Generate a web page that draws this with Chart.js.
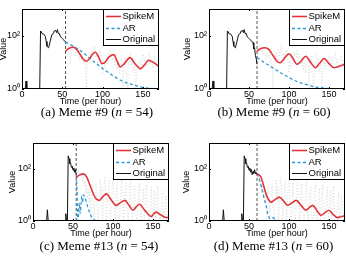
<!DOCTYPE html>
<html>
<head>
<meta charset="utf-8">
<script src="https://cdn.jsdelivr.net/npm/chart.js@4.4.0/dist/chart.umd.min.js"></script>
<style>
  body { margin: 0; background: #fff; width: 346px; height: 263px; overflow: hidden; position: relative; }
  canvas { position: absolute; }
  .cap { position: absolute; font: 13px 'Liberation Serif', 'Times New Roman', serif; white-space: nowrap; line-height: 1; transform: translate(-50%, -50%); color: #000; }
</style>
</head>
<body>
<canvas id="chartA" width="173" height="112" style="left:0;top:0"></canvas>
<canvas id="chartB" width="173" height="112" style="left:173px;top:0"></canvas>
<canvas id="chartC" width="173" height="112" style="left:0;top:131px"></canvas>
<canvas id="chartD" width="173" height="112" style="left:173px;top:131px"></canvas>
<div class="cap" style="left:97px;top:110.5px">(a) Meme #9 (<i>n</i> = 54)</div>
<div class="cap" style="left:274px;top:110.5px">(b) Meme #9 (<i>n</i> = 60)</div>
<div class="cap" style="left:99px;top:244.5px">(c) Meme #13 (<i>n</i> = 54)</div>
<div class="cap" style="left:273.5px;top:244.5px">(d) Meme #13 (<i>n</i> = 60)</div>
<script>
// observed popularity, meme #9 (hour, value)
const meme9Hours = [0, 4, 5, 6, 22, 23, 24, 25, 27, 29, 30, 31, 33, 35, 37, 39, 40, 42, 43, 44, 45, 46, 48, 50, 52, 54,
  55, 56, 57, 58, 59, 60, 61, 62, 63, 64, 66, 67, 68, 70, 71, 72, 74, 75, 76, 78, 79, 80, 81, 82, 84, 85, 87, 88, 90,
  91, 93, 94, 96, 97, 99, 100, 101, 103, 104, 106, 107, 109, 110, 112, 113, 115, 116, 118, 119, 121, 122, 124, 125,
  126, 128, 129, 131, 132, 134, 135, 137, 138, 140, 141, 143, 144, 146, 147, 149, 150, 152, 153, 155, 156, 158, 159,
  161, 162, 164, 165, 167, 168, 170];
const meme9Values = [1, 1, 2, 1, 1, 150, 140, 118, 115, 95, 60, 40, 35, 62, 110, 120, 150, 155, 130, 170, 120, 125, 90, 78, 68, 58,
  55, 32, 35, 18, 14, 8.5, 20, 30, 45, 25, 40, 18, 35, 28, 12, 22, 15, 30, 9, 14, 6, 1, 8, 12, 25, 10, 30, 18, 40,
  15, 22, 8, 20, 30, 10, 4, 12, 6, 18, 9, 24, 14, 30, 12, 20, 8, 16, 5, 12, 4, 9, 14, 1,
  7, 18, 5, 1, 10, 22, 8, 15, 4, 9, 1, 6, 11, 5, 14, 8, 20, 10, 16, 7, 12, 25, 9,
  14, 6, 11, 18, 8, 12, 9];

// observed popularity, meme #13 (hour, value)
const meme13Hours = [0, 17, 18, 19, 40, 41, 42, 43, 44, 45, 46, 47, 48, 49, 50, 51, 52, 53, 54, 55, 56, 57, 58, 59, 60,
  61, 62, 63, 64, 65, 66, 67, 68, 69, 70, 71, 72, 73, 74, 75, 76, 78, 79, 80, 82, 83, 84, 85, 86, 87, 89, 90, 91, 92,
  94, 95, 96, 97, 99, 100, 101, 103, 104, 105, 106, 108, 110, 111, 112, 113, 115, 116, 117, 119, 121, 122, 123, 124,
  126, 127, 128, 130, 132, 133, 134, 135, 137, 138, 139, 141, 142, 143, 145, 147, 148, 149, 151, 152, 153, 155, 156,
  157, 159, 161, 162, 163, 165, 166, 168, 170];
const meme13Values = [1, 1, 2.7, 1, 1, 1.9, 1, 1, 320, 250, 160, 170, 115, 130, 90, 110, 75, 95, 60, 80, 68, 95, 66, 74, 62,
  40, 30, 55, 20, 35, 12, 25, 8, 18, 5, 14, 1, 10, 22, 6, 1, 15, 30, 4, 1, 12, 40, 8, 20, 1, 25, 50, 10, 1,
  18, 35, 3, 1, 22, 40, 6, 1, 15, 30, 2, 1, 20, 45, 5, 1, 12, 28, 3, 1, 15, 35, 4, 1,
  9, 22, 2, 1, 12, 30, 3, 1, 8, 18, 1, 6, 25, 2, 1, 10, 20, 1, 5, 15, 1, 8, 22,
  2, 1, 6, 14, 1, 4, 10, 1, 3];

// SpikeM and AR forecasts for each panel
const spikeAHours = [54, 58, 64, 68, 72, 76, 80, 84, 88, 91, 95, 99, 103, 108, 114, 118, 122, 127, 134, 140, 147, 152, 157, 163, 170];
const spikeAValues = [26, 33, 37, 30, 20, 13, 11, 14, 21, 24, 16, 9, 10, 16, 19.5, 11, 6.7, 9, 15, 9, 5.8, 8, 12, 10, 7];
const arAHours = [54, 65, 75, 85, 95, 104, 112, 124, 136, 150, 165, 170];
const arAValues = [57, 38, 24, 13.5, 7.7, 4.8, 3.3, 2, 1.5, 1.15, 1.03, 1];

const spikeBHours = [60, 64, 70, 75, 80, 85, 89, 94, 100, 105, 110, 115, 121, 127, 133, 138, 144, 150, 156, 162, 170];
const spikeBValues = [26, 32, 35, 30, 18, 11, 9.7, 14, 21, 14, 8.4, 11, 17, 10, 6.3, 9, 14, 9, 6.3, 7, 8.4];
const arBHours = [60, 70, 79.5, 90, 100, 110, 121, 132, 142, 155, 170];
const arBValues = [15, 9.5, 6.3, 4, 2.7, 1.9, 1.5, 1.2, 1.1, 1.02, 1];

const spikeCHours = [54, 58, 63, 67, 70, 73, 76, 79, 83, 87, 92, 97, 104, 109, 115, 120, 125, 129, 133, 140, 148, 151, 154, 160, 165, 170];
const spikeCValues = [48, 58, 65, 50, 30, 17, 10, 7.1, 6.2, 8.5, 11, 7, 4, 5, 6.2, 4, 2.6, 3.5, 4.4, 2.5, 1.5, 1.9, 2.2, 1.7, 1.4, 1.35];
const arCHours = [54, 55, 56, 57, 58, 59, 60, 61, 62, 63, 65, 67, 69, 71, 74, 78, 85, 170];
const arCValues = [55, 15, 1, 2, 5, 2, 4, 9, 5, 10, 8, 5, 3, 2, 1.3, 1.05, 1, 1];

const spikeDHours = [60, 63, 65, 68, 71.3, 73.5, 77.5, 82, 88, 93, 98, 103, 109, 115, 121, 125, 129.6, 135, 140, 145, 150, 155, 160.7, 165, 170];
const spikeDValues = [65, 58, 48, 25, 11, 7.5, 5.3, 6.5, 8.3, 6, 4, 4.8, 6.2, 4, 2.6, 3.2, 4, 2.5, 1.65, 2.1, 2.6, 1.8, 1.35, 1.45, 1.6];
const arDHours = [60, 63, 66.6, 69, 71.3, 73.4, 75.5, 78, 80, 83, 88, 170];
const arDValues = [65, 40, 15, 7, 4, 1.9, 1.3, 1.2, 1.35, 1.1, 1, 1];

const xTicks = [0, 50, 100, 150];
const yTicks = [1, 100];
const yTickLabels = ['10⁰', '10²'];
const legendNames = ['SpikeM', 'AR', 'Original'];

Chart.defaults.font.family = "'Liberation Sans', Arial, sans-serif";
Chart.defaults.color = '#000';

function points(hours, values) {
  return hours.map((h, i) => ({ x: h, y: values[i] }));
}

function line(ctx, x1, y1, x2, y2) {
  ctx.beginPath();
  ctx.moveTo(x1, y1);
  ctx.lineTo(x2, y2);
  ctx.stroke();
}

// box round the plot, inward ticks, legend in the top right corner
const frame = {
  id: 'frame',
  afterDatasetsDraw(chart) {
    const { ctx, chartArea: a, scales } = chart;
    ctx.save();
    ctx.strokeStyle = '#000';
    ctx.lineWidth = 1;
    ctx.setLineDash([]);
    xTicks.forEach((v) => {
      const px = Math.round(scales.x.getPixelForValue(v)) + 0.5;
      line(ctx, px, a.bottom, px, a.bottom - 2);
      line(ctx, px, a.top, px, a.top + 2);
    });
    yTicks.forEach((v) => {
      const py = Math.round(scales.y.getPixelForValue(v)) + 0.5;
      line(ctx, a.left, py, a.left + 2, py);
      line(ctx, a.right, py, a.right - 2, py);
    });
    ctx.strokeRect(a.left + 0.5, a.top + 0.5, a.width - 1, a.height - 1);

    const w = 56, h = 37;
    const lx = a.right - w, ly = a.top;
    ctx.fillStyle = '#fff';
    ctx.fillRect(lx, ly, w, h);
    ctx.strokeRect(lx + 0.5, ly + 0.5, w - 1, h - 1);
    ctx.font = "9.5px 'Liberation Sans', Arial, sans-serif";
    ctx.textBaseline = 'middle';
    legendNames.forEach((name, i) => {
      const ds = chart.data.datasets.find((d) => d.label === name);
      const yy = Math.round(ly + 7 + i * 11.5) + 0.5;
      ctx.strokeStyle = ds.borderColor;
      ctx.lineWidth = ds.borderWidth;
      ctx.setLineDash(ds.borderDash || []);
      line(ctx, lx + 3, yy, lx + 18, yy);
      ctx.setLineDash([]);
      ctx.fillStyle = '#000';
      ctx.fillText(name, lx + 19.5, yy);
    });
    ctx.restore();
  },
};

function makeChart(id, n, hours, values, spike, ar, area, yTitlePad) {
  const obs = points(hours, values);
  const data = {
    datasets: [
      { label: 'SpikeM', data: points(spike[0], spike[1]), borderColor: '#e2353a', borderWidth: 1.6, cubicInterpolationMode: 'monotone', order: 1 },
      { label: 'AR', data: points(ar[0], ar[1]), borderColor: '#2a9ad5', borderWidth: 1.3, borderDash: [3, 2.5], cubicInterpolationMode: 'monotone', order: 2 },
      { label: 'Original', data: obs.filter((p) => p.x <= n), borderColor: '#111', borderWidth: 1, order: 3 },
      { label: 'Held out', data: obs.filter((p) => p.x >= n), borderColor: '#d2d2d2', borderWidth: 0.8, borderDash: [1, 2], order: 4 },
      { label: 'n', data: [{ x: n, y: 1 }, { x: n, y: 1000 }], borderColor: '#555', borderWidth: 1, borderDash: [3, 2], order: 5 },
    ],
  };
  return new Chart(document.getElementById(id), {
    type: 'line',
    data,
    plugins: [frame],
    options: {
      responsive: false,
      animation: false,
      devicePixelRatio: 1,
      layout: { padding: { left: 0, top: area.top, right: 173 - area.right, bottom: 112 - area.bottom - 18 } },
      elements: { point: { radius: 0 }, line: { tension: 0, fill: false } },
      plugins: { legend: { display: false }, tooltip: { enabled: false } },
      scales: {
        x: {
          type: 'linear',
          min: 0,
          max: 170,
          afterBuildTicks: (s) => { s.ticks = xTicks.map((v) => ({ value: v })); },
          afterFit: (s) => { s.height = 18; },
          grid: { display: false, drawTicks: false },
          border: { display: false },
          ticks: { font: { size: 9 }, padding: 0, maxRotation: 0, autoSkip: false },
          title: { display: true, text: 'Time (per hour)', font: { size: 9 }, padding: 0 },
        },
        y: {
          type: 'logarithmic',
          min: 1,
          max: 1000,
          afterBuildTicks: (s) => { s.ticks = yTicks.map((v) => ({ value: v })); },
          afterFit: (s) => { s.width = area.left; },
          grid: { display: false, drawTicks: false },
          border: { display: false },
          ticks: { font: { size: 9 }, padding: 2, autoSkip: false, callback: (v, i) => yTickLabels[i] },
          title: { display: true, text: 'Value', font: { size: 9 }, padding: { top: yTitlePad, bottom: 0 } },
        },
      },
    },
  });
}

makeChart('chartA', 54, meme9Hours, meme9Values, [spikeAHours, spikeAValues], [arAHours, arAValues],
  { left: 22, top: 9, right: 159, bottom: 89 }, -1.5);
makeChart('chartB', 60, meme9Hours, meme9Values, [spikeBHours, spikeBValues], [arBHours, arBValues],
  { left: 36, top: 9, right: 172, bottom: 89 }, 9);
makeChart('chartC', 54, meme13Hours, meme13Values, [spikeCHours, spikeCValues], [arCHours, arCValues],
  { left: 33, top: 12, right: 169, bottom: 90 }, 7);
makeChart('chartD', 60, meme13Hours, meme13Values, [spikeDHours, spikeDValues], [arDHours, arDValues],
  { left: 36, top: 12, right: 172, bottom: 90 }, 8.5);
</script>
</body>
</html>
